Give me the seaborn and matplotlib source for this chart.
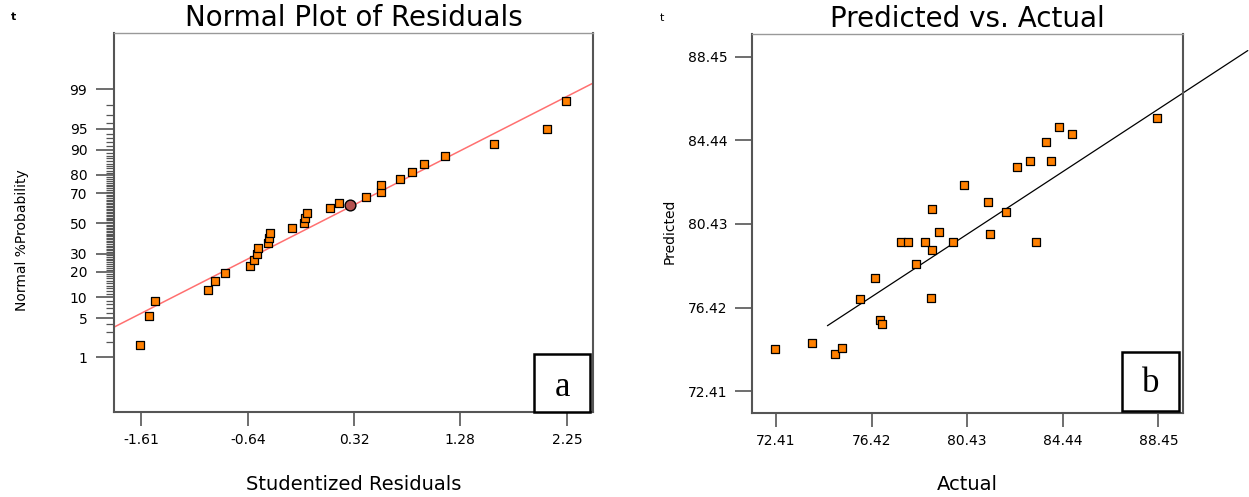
import matplotlib
matplotlib.use('Agg')
import matplotlib.pyplot as plt
import seaborn as sns
import numpy as np
import pandas as pd
from statistics import NormalDist
from matplotlib.patches import Rectangle

# ---------------- Panel a: normal plot of residuals ----------------
resid = [-1.622, -1.537, -1.488, -1.005, -0.938, -0.848, -0.621, -0.587, -0.557, -0.548,
         -0.458, -0.448, -0.439, -0.242, -0.136, -0.127, -0.104, 0.102, 0.181,
         0.424, 0.565, 0.565, 0.738, 0.846, 0.953, 1.149, 1.588, 2.069, 2.238]
prob = [1.77, 5.34, 8.82, 12.28, 15.74, 19.3, 22.8, 26.1, 29.6, 33.3,
        36.5, 40.1, 43.4, 47.1, 50.3, 53.8, 57.2, 60.8, 64.1,
        67.5, 70.95, 74.6, 77.8, 81.25, 84.75, 88.0, 91.5, 94.9, 98.3]
highlight_resid = [0.284]
highlight_prob = [62.8]
ref_line_resid = [-1.86, 2.49]
ref_line_prob = [3.56, 99.26]
resid_ticks = [-1.61, -0.64, 0.32, 1.28, 2.25]
resid_tick_labels = ["-1.61", "-0.64", "0.32", "1.28", "2.25"]
prob_ticks = [1, 5, 10, 20, 30, 50, 70, 80, 90, 95, 99]

# ---------------- Panel b: predicted vs actual ----------------
actual = [72.38, 73.92, 74.87, 75.18, 75.95, 76.55, 76.76, 76.84, 77.65, 77.95,
          78.28, 78.66, 78.92, 78.95, 78.95, 79.25, 79.83, 80.28, 81.29, 81.39,
          82.07, 82.53, 83.08, 83.32, 83.72, 83.93, 84.29, 84.81, 88.40]
predicted = [74.45, 74.74, 74.18, 74.50, 76.82, 77.86, 75.83, 75.62, 79.55, 79.55,
             78.51, 79.55, 76.87, 79.18, 81.15, 80.05, 79.55, 82.31, 81.48, 79.94,
             81.02, 83.18, 83.46, 79.55, 84.38, 83.45, 85.09, 84.76, 85.51]
fit_actual = [74.57, 92.2]
fit_pred = [75.55, 88.74]
ab_ticks = [72.41, 76.42, 80.43, 84.44, 88.45]
ab_tick_labels = ["72.41", "76.42", "80.43", "84.44", "88.45"]

sns.set_style("white")
plt.rcParams['font.family'] = ['DejaVu Sans']
plt.rcParams['text.color'] = 'black'
plt.rcParams['axes.labelcolor'] = 'black'
plt.rcParams['xtick.color'] = 'black'
plt.rcParams['ytick.color'] = 'black'

W, H = 1249, 497
fig = plt.figure(figsize=(W / 100, H / 100), dpi=100)

def px_axes(l, t, r, b):
    return fig.add_axes([l / W, 1 - b / H, (r - l) / W, (b - t) / H])

nd = NormalDist()
z = lambda p: nd.inv_cdf(p / 100.0)

ORANGE = '#FF8000'
SPINE = '#555555'

def style_spines(ax):
    for s in ['left', 'bottom', 'right']:
        ax.spines[s].set_color(SPINE)
        ax.spines[s].set_linewidth(1.5)
    ax.spines['top'].set_color('#999999')
    ax.spines['top'].set_linewidth(1.0)

# ---------- Panel a ----------
axa = px_axes(113.7, 33.3, 593.3, 412.3)
df_a = pd.DataFrame({'resid': resid, 'z': [z(p) for p in prob]})
df_h = pd.DataFrame({'resid': highlight_resid, 'z': [z(p) for p in highlight_prob]})
df_l = pd.DataFrame({'resid': ref_line_resid, 'z': [z(p) for p in ref_line_prob]})
sns.lineplot(data=df_l, x='resid', y='z', ax=axa, color='#FF7070', linewidth=1.1, zorder=2)
sns.scatterplot(data=df_a, x='resid', y='z', ax=axa, marker='s', s=40, color=ORANGE,
                edgecolor='black', linewidth=0.9, zorder=3)
sns.scatterplot(data=df_h, x='resid', y='z', ax=axa, marker='o', s=60, color='#B5514F',
                edgecolor='black', linewidth=1.0, zorder=4)
axa.set_xlim(-1.86, 2.49)
axa.set_ylim(-3.28, 3.30)
axa.set_xticks(resid_ticks)
axa.set_xticklabels(resid_tick_labels)
axa.set_yticks([z(p) for p in prob_ticks])
axa.set_yticklabels([str(p) for p in prob_ticks])
minor = [z(p) for p in range(1, 100) if p not in prob_ticks]
axa.set_yticks(minor, minor=True)
axa.tick_params(axis='x', length=10, width=1.2, color=SPINE, pad=5, labelsize=10, bottom=True)
axa.tick_params(axis='y', which='major', length=13, width=1.2, color=SPINE, pad=6,
                labelsize=10, left=True)
axa.tick_params(axis='y', which='minor', length=6, width=0.9, color='#555555', left=True)
style_spines(axa)
axa.set_title("Normal Plot of Residuals", fontsize=20, pad=5)
axa.set_xlabel("Studentized Residuals", fontsize=14, va='center')
axa.xaxis.set_label_coords(0.5, (412.3 - 485) / 379.0)
axa.set_ylabel("Normal %Probability", fontsize=10, va='center', ha='center')
axa.yaxis.set_label_coords((22 - 113.7) / 479.6, (412.3 - 240) / 379.0)
axa.add_patch(Rectangle((0.877, 0.0), 0.116, 0.154, transform=axa.transAxes,
                        fill=True, facecolor='white', edgecolor='black', linewidth=1.8,
                        zorder=5, clip_on=False))
axa.text(0.935, 0.044, "a", transform=axa.transAxes, fontsize=25, ha='center',
         va='baseline', family='Liberation Serif', zorder=6)

# ---------- Panel b ----------
axb = px_axes(752.3, 34.3, 1182.7, 412.7)
df_b = pd.DataFrame({'Actual': actual, 'Predicted': predicted})
df_f = pd.DataFrame({'Actual': fit_actual, 'Predicted': fit_pred})
sns.lineplot(data=df_f, x='Actual', y='Predicted', ax=axb, color='black',
             linewidth=0.9, zorder=2)
for ln in axb.get_lines():
    ln.set_clip_on(False)
sns.scatterplot(data=df_b, x='Actual', y='Predicted', ax=axb, marker='s', s=40,
                color=ORANGE, edgecolor='black', linewidth=0.9, zorder=3)
axb.set_xlim(71.42, 89.47)
axb.set_ylim(71.38, 89.52)
axb.set_xticks(ab_ticks)
axb.set_xticklabels(ab_tick_labels)
axb.set_yticks(ab_ticks)
axb.set_yticklabels(ab_tick_labels)
axb.tick_params(axis='x', length=10, width=1.2, color=SPINE, pad=5, labelsize=10, bottom=True)
axb.tick_params(axis='y', length=12, width=1.2, color=SPINE, pad=6, labelsize=10, left=True)
style_spines(axb)
axb.set_title("Predicted vs. Actual", fontsize=20, pad=5)
axb.set_xlabel("Actual", fontsize=14, va='center')
axb.xaxis.set_label_coords(0.5, (412.7 - 485) / 378.4)
axb.set_ylabel("Predicted", fontsize=10, va='center', ha='center')
axb.yaxis.set_label_coords((670 - 752.3) / 430.4, (412.7 - 231) / 378.4)
axb.add_patch(Rectangle((0.859, 0.005), 0.132, 0.156, transform=axb.transAxes,
                        fill=True, facecolor='white', edgecolor='black', linewidth=1.8,
                        zorder=5, clip_on=False))
axb.text(0.925, 0.054, "b", transform=axb.transAxes, fontsize=25, ha='center',
         va='baseline', family='Liberation Serif', zorder=6)

# small corner marks
fig.text(13.5 / W, 1 - 17 / H, "t", fontsize=8, fontweight='bold', ha='center', va='center')
fig.text(662 / W, 1 - 18 / H, "t", fontsize=8, ha='center', va='center')

fig.savefig("out.png", dpi=100)
